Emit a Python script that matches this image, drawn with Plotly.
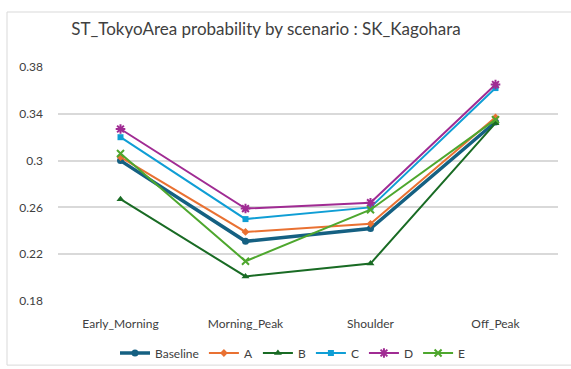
import plotly.graph_objects as go

categories = ["Early_Morning", "Morning_Peak", "Shoulder", "Off_Peak"]
baseline = [0.300, 0.231, 0.242, 0.333]
series_a = [0.303, 0.239, 0.246, 0.337]
series_b = [0.267, 0.201, 0.212, 0.332]
series_c = [0.320, 0.250, 0.260, 0.362]
series_d = [0.327, 0.259, 0.264, 0.365]
series_e = [0.306, 0.214, 0.258, 0.335]
y_ticks = [0.18, 0.22, 0.26, 0.30, 0.34, 0.38]
y_tick_labels = ["0.18", "0.22", "0.26", "0.3", "0.34", "0.38"]

series = [
    ("Baseline", baseline, "#156082", "circle", 3.5, 7),
    ("A", series_a, "#E97132", "diamond", 2, 6),
    ("B", series_b, "#196B24", "triangle-up", 2, 7),
    ("C", series_c, "#0F9ED5", "square", 2, 6),
    ("D", series_d, "#A02B93", "asterisk-open", 2, 8),
    ("E", series_e, "#4EA72E", "x-thin-open", 2, 7),
]

fig = go.Figure()
for name, vals, color, sym, lw, ms in series:
    fig.add_trace(go.Scatter(
        x=categories, y=vals, name=name, mode="lines+markers",
        line=dict(color=color, width=lw),
        marker=dict(symbol=sym, size=ms, color=color,
                    line=dict(color=color, width=2 if "open" in sym else 0)),
    ))

fig.add_shape(type="rect", xref="paper", yref="paper",
              x0=-0.102, x1=1.05, y0=-0.274, y1=1.235,
              line=dict(color="#D9D9D9", width=1), fillcolor="rgba(0,0,0,0)",
              layer="below")

fig.update_layout(
    width=571, height=369,
    margin=dict(l=58, r=13, t=67, b=68, autoexpand=False),
    paper_bgcolor="white", plot_bgcolor="white",
    font=dict(family="Lato, Roboto, sans-serif", color="#404040", size=12),
    title=dict(text="ST_TokyoArea probability by scenario : SK_Kagohara",
               x=266 / 571, xanchor="center", y=1 - 29 / 369, yanchor="middle",
               font=dict(size=17, color="#404040", family="Lato, Roboto, sans-serif")),
    showlegend=True,
    legend=dict(orientation="h", x=0.47, xanchor="center", xref="paper",
                y=1 - 353 / 369, yanchor="middle", yref="container",
                font=dict(size=12, color="#404040"), itemwidth=30,
                tracegroupgap=0, bgcolor="rgba(0,0,0,0)"),
    xaxis=dict(type="category", range=[-0.5, 3.5], showgrid=False, showline=False,
               zeroline=False, automargin=False,
               ticks="", tickfont=dict(size=12, color="#404040"), ticklabelstandoff=14),
    yaxis=dict(range=[0.18, 0.38], tickvals=y_ticks, ticktext=y_tick_labels,
               showgrid=True, gridcolor="#D9D9D9", gridwidth=1.5, zeroline=False,
               showline=False, ticks="", automargin=False,
               tickfont=dict(size=12, color="#404040"),
               ticklabelstandoff=14),
)

fig.write_html("out.html")
